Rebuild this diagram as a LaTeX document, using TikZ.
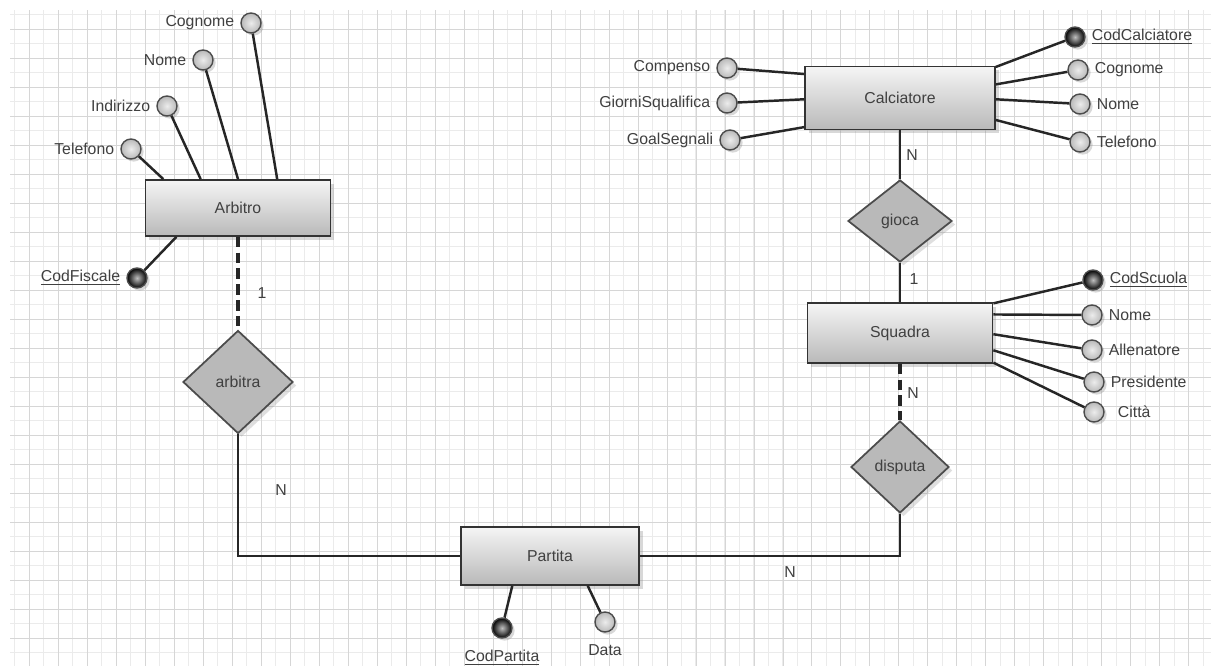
\documentclass[tikz,border=0pt]{standalone}
\usepackage{fontspec}
\setmainfont{Liberation Sans}
\usetikzlibrary{shapes.geometric,shadows,calc}

\begin{document}
\begin{tikzpicture}[x=0.02cm, y=-0.02cm,
	every node/.style={font=\fontsize{9}{11}\selectfont, text=black!75},
	entity/.style={draw=black!80, line width=1pt, top color=gray!8, bottom color=gray!55,
		minimum width=3.7cm, minimum height=1.2cm,
		drop shadow={opacity=0.3, shadow xshift=2pt, shadow yshift=-2pt}},
	relation/.style={diamond, draw=black!70, line width=1pt, fill=gray!55, inner sep=0pt,
		drop shadow={opacity=0.25, shadow xshift=2pt, shadow yshift=-2pt}},
	attr/.style={circle, draw=black!70, line width=0.8pt, inner color=gray!15, outer color=gray!55,
		minimum size=0.4cm, inner sep=0pt,
		drop shadow={opacity=0.3, shadow xshift=1.5pt, shadow yshift=-1.5pt}},
	keyattr/.style={attr, inner color=gray!50, outer color=black},
	link/.style={draw=black!85, line width=1.4pt},
	weak/.style={link, line width=1.8pt, dash pattern=on 6pt off 3pt}]

	% sheet
	\useasboundingbox[fill=white] (0,0) rectangle (1211,668);
	\draw[black!8, step=0.29cm] (10,10) grid (1211,666);
	\draw[black!16, step=0.58cm] (10,10) grid (1211,666);

	% entities
	\node[entity, minimum width=3.7cm, minimum height=1.12cm] (arbitro) at (238,208) {Arbitro};
	\node[entity, minimum width=3.8cm, minimum height=1.26cm] (calciatore) at (900,98) {Calciatore};
	\node[entity, minimum width=3.7cm, minimum height=1.2cm] (squadra) at (900,333) {Squadra};
	\node[entity, minimum width=3.56cm, minimum height=1.16cm] (partita) at (550,556) {Partita};

	% relationships
	\node[relation, minimum width=2.2cm, minimum height=2.06cm] (arbitra) at (238,382) {arbitra};
	\node[relation, minimum width=2.08cm, minimum height=1.64cm] (gioca) at (900,221) {gioca};
	\node[relation, minimum width=1.96cm, minimum height=1.84cm] (disputa) at (900,467) {disputa};

	% attributes of Arbitro
	\node[attr, label=left:Telefono] (telefonoA) at (131,149) {};
	\node[attr, label=left:Indirizzo] (indirizzoA) at (167,106) {};
	\node[attr, label=left:Nome] (nomeA) at (203,60) {};
	\node[attr, label=left:Cognome] (cognomeA) at (251,23) {};
	\node[keyattr, label=left:\underline{CodFiscale}] (codfiscale) at (137,278) {};
	\draw[link] (telefonoA) -- ($(arbitro.north west)!0.1!(arbitro.north east)$);
	\draw[link] (indirizzoA) -- ($(arbitro.north west)!0.3!(arbitro.north east)$);
	\draw[link] (nomeA) -- ($(arbitro.north west)!0.5!(arbitro.north east)$);
	\draw[link] (cognomeA) -- ($(arbitro.north west)!0.71!(arbitro.north east)$);
	\draw[link] (codfiscale) -- ($(arbitro.south west)!0.17!(arbitro.south east)$);

	% attributes of Calciatore
	\node[attr, label=left:Compenso] (compenso) at (727,68) {};
	\node[attr, label=left:GiorniSqualifica] (giorni) at (727,103) {};
	\node[attr, label=left:GoalSegnali] (goal) at (730,140) {};
	\node[keyattr, label=right:\underline{CodCalciatore}] (codcalciatore) at (1075,37) {};
	\node[attr, label=right:Cognome] (cognomeC) at (1078,70) {};
	\node[attr, label=right:Nome] (nomeC) at (1080,104) {};
	\node[attr, label=right:Telefono] (telefonoC) at (1080,142) {};
	\draw[link] (compenso) -- ($(calciatore.north west)!0.13!(calciatore.south west)$);
	\draw[link] (giorni) -- ($(calciatore.north west)!0.52!(calciatore.south west)$);
	\draw[link] (goal) -- ($(calciatore.north west)!0.95!(calciatore.south west)$);
	\draw[link] (codcalciatore) -- ($(calciatore.north east)!0.02!(calciatore.south east)$);
	\draw[link] (cognomeC) -- ($(calciatore.north east)!0.29!(calciatore.south east)$);
	\draw[link] (nomeC) -- ($(calciatore.north east)!0.52!(calciatore.south east)$);
	\draw[link] (telefonoC) -- ($(calciatore.north east)!0.84!(calciatore.south east)$);

	% attributes of Squadra
	\node[keyattr, label=right:\underline{CodScuola}] (codscuola) at (1093,280) {};
	\node[attr, label=right:Nome] (nomeS) at (1092,315) {};
	\node[attr, label=right:Allenatore] (allenatore) at (1092,350) {};
	\node[attr, label=right:Presidente] (presidente) at (1094,382) {};
	\node[attr, label={[label distance=4pt]right:Città}] (citta) at (1094,412) {};
	\draw[link] (codscuola) -- ($(squadra.north east)!0.02!(squadra.south east)$);
	\draw[link] (nomeS) -- ($(squadra.north east)!0.2!(squadra.south east)$);
	\draw[link] (allenatore) -- ($(squadra.north east)!0.52!(squadra.south east)$);
	\draw[link] (presidente) -- ($(squadra.north east)!0.78!(squadra.south east)$);
	\draw[link] (citta) -- ($(squadra.north east)!0.98!(squadra.south east)$);

	% attributes of Partita
	\node[keyattr, label={[label distance=3pt]below:\underline{CodPartita}}] (codpartita) at (502,628) {};
	\node[attr, label={[label distance=3pt]below:Data}] (data) at (605,622) {};
	\draw[link] (codpartita) -- ($(partita.south west)!0.29!(partita.south east)$);
	\draw[link] (data) -- ($(partita.south west)!0.71!(partita.south east)$);

	% relationship links
	\draw[weak] (arbitro.south) -- (arbitra.north);
	\draw[link] (arbitra.south) |- (partita.west);
	\draw[link] (partita.east) -| (disputa.south);
	\draw[weak] (squadra.south) -- (disputa.north);
	\draw[link] (calciatore.south) -- (gioca.north);
	\draw[link] (gioca.south) -- (squadra.north);

	% cardinalities
	\node (cardArbitro) at (262,293) {1};
	\node (cardArbitra) at (281,490) {N};
	\node (cardPartita) at (790,572) {N};
	\node (cardSquadraD) at (913,393) {N};
	\node (cardSquadraG) at (914,279) {1};
	\node (cardCalciatore) at (912,155) {N};
\end{tikzpicture}
\end{document}
